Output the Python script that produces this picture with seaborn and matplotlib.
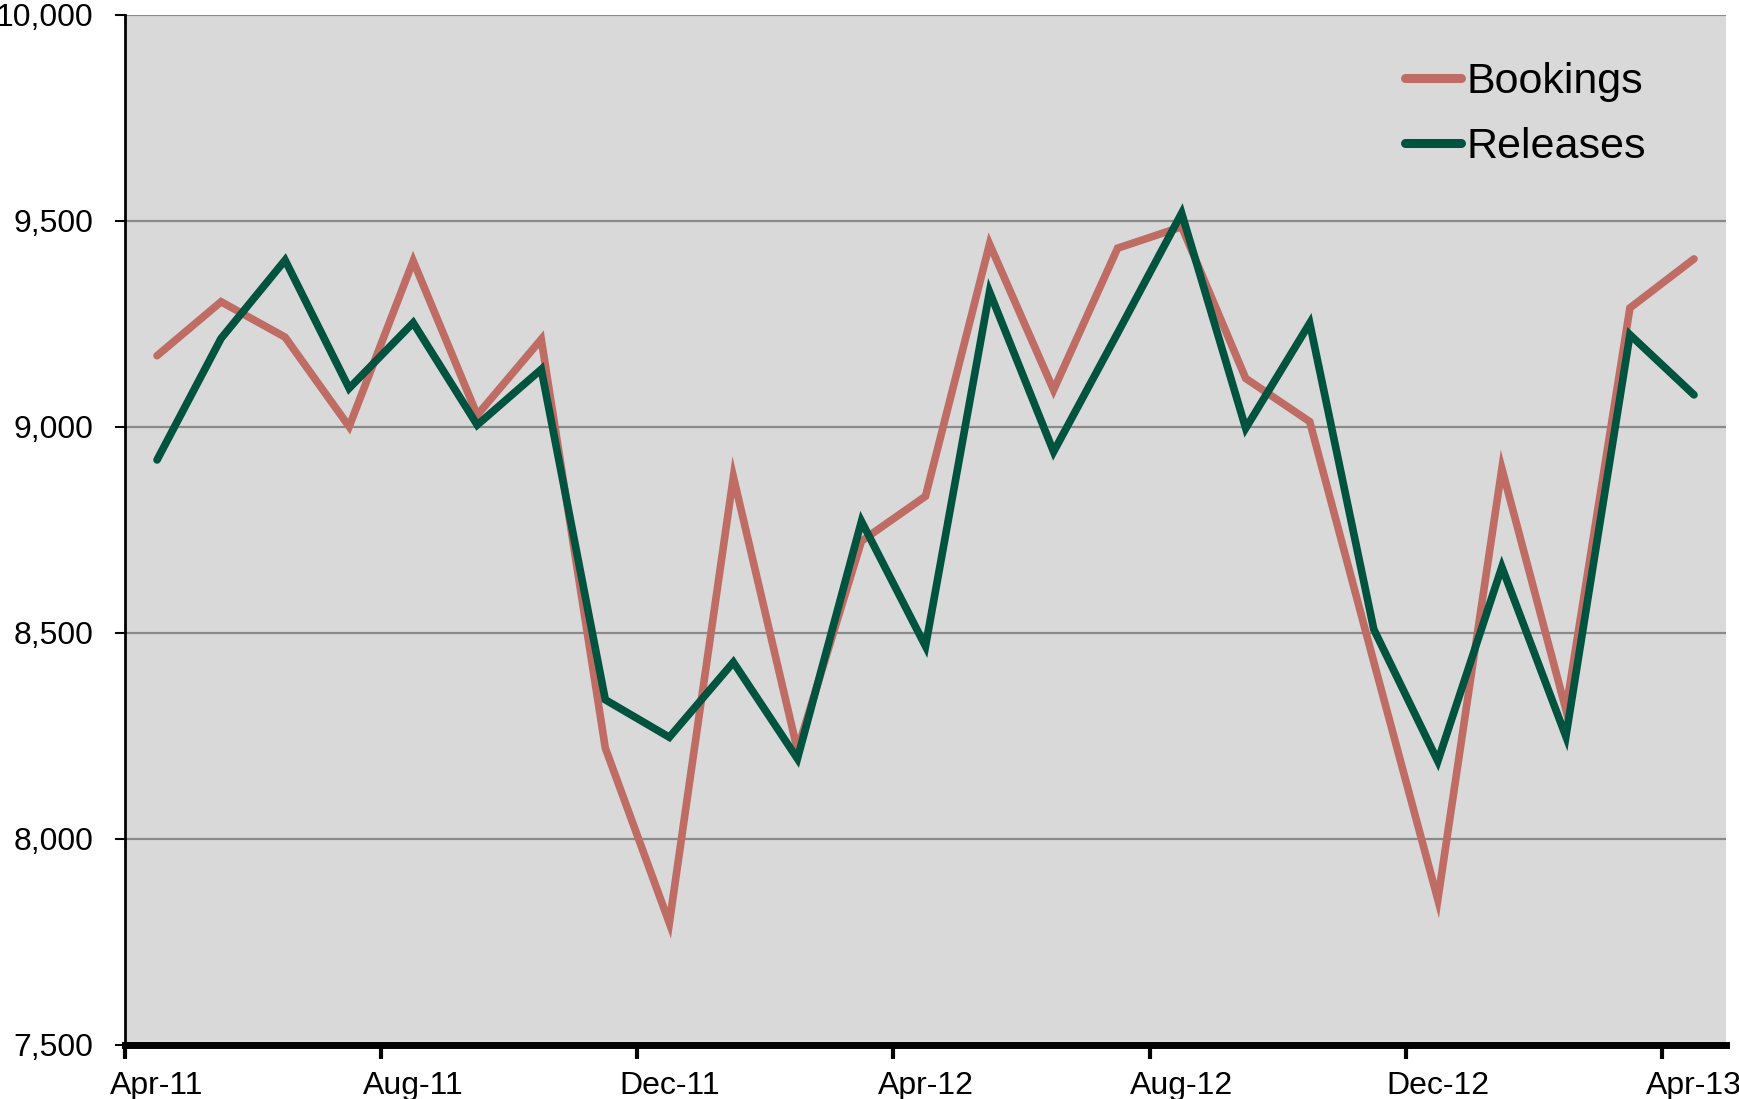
import matplotlib
matplotlib.use("Agg")
import matplotlib.pyplot as plt
import seaborn as sns
import pandas as pd
import numpy as np
from matplotlib.ticker import FuncFormatter, FixedLocator
from matplotlib.lines import Line2D

months = ["Apr-11", "May-11", "Jun-11", "Jul-11", "Aug-11", "Sep-11", "Oct-11", "Nov-11",
          "Dec-11", "Jan-12", "Feb-12", "Mar-12", "Apr-12", "May-12", "Jun-12", "Jul-12",
          "Aug-12", "Sep-12", "Oct-12", "Nov-12", "Dec-12", "Jan-13", "Feb-13", "Mar-13", "Apr-13"]
bookings = [9173, 9304, 9218, 9001, 9403, 9029, 9213, 8221, 7796, 8879, 8216, 8723, 8832,
            9444, 9090, 9434, 9486, 9118, 9013, 8430, 7853, 8899, 8314, 9289, 9408]
releases = [8920, 9215, 9405, 9094, 9253, 9005, 9140, 8338, 8247, 8429, 8195, 8771, 8468,
            9328, 8940, 9228, 9519, 8997, 9252, 8509, 8189, 8660, 8249, 9224, 9078]
series_names = ["Bookings", "Releases"]
colors = ["#bf6d64", "#00533e"]
label_every = 4

sns.set_theme(style="white")
plt.rcParams['font.family'] = ['Liberation Sans', 'DejaVu Sans']
plt.rcParams['text.color'] = 'black'

n = len(months)
df = pd.DataFrame({
    "idx": list(range(n)) * 2,
    "value": bookings + releases,
    "series": [series_names[0]] * n + [series_names[1]] * n,
})

fig = plt.figure(figsize=(17.4, 10.99), dpi=100)
ax = fig.add_axes([125 / 1740, 1 - 1045 / 1099, (1726 - 125) / 1740, (1045 - 15) / 1099])
ax.set_facecolor("#d9d9d9")

sns.lineplot(data=df, x="idx", y="value", hue="series", palette=colors, linewidth=5.5,
             ax=ax, legend=False, solid_capstyle="round", solid_joinstyle="miter")

ax.set_xlim(-0.5, n - 0.5)
ax.set_ylim(7500, 10000)

ax.yaxis.set_major_locator(FixedLocator([7500, 8000, 8500, 9000, 9500, 10000]))
ax.yaxis.set_major_formatter(FuncFormatter(lambda v, p: f"{int(v):,}"))
ax.grid(axis="y", color="#8a8a8a", linewidth=1.6)
ax.set_axisbelow(True)

label_pos = list(range(0, n, label_every))
ax.set_xticks(label_pos)
ax.set_xticklabels([months[i] for i in label_pos])
ax.set_xticks([p - 0.5 for p in label_pos], minor=True)
ax.tick_params(axis="x", which="major", length=0, pad=19, labelsize=23, labelcolor="black")
ax.tick_params(axis="x", which="minor", direction="out", length=10, width=3, color="black", bottom=True)
ax.tick_params(axis="y", which="major", direction="out", length=7, width=1.5, color="black",
               left=True, pad=16, labelsize=23, labelcolor="black")

for s in ["top", "right"]:
    ax.spines[s].set_visible(False)
ax.spines["left"].set_color("black")
ax.spines["left"].set_linewidth(2)
ax.spines["bottom"].set_color("black")
ax.spines["bottom"].set_linewidth(5)
ax.set_xlabel("")
ax.set_ylabel("")

handles = [Line2D([0], [0], color=c, linewidth=6.5, solid_capstyle="round") for c in colors]
leg = ax.legend(handles, series_names, loc="upper left", frameon=False, fontsize=31,
                bbox_to_anchor=(1405 / 1740, 1 - 62 / 1099), bbox_transform=fig.transFigure,
                handlelength=1.3, handletextpad=0.12, borderpad=0, borderaxespad=0,
                labelspacing=0.58)
for t in leg.get_texts():
    t.set_color("black")

fig.savefig("out.png", dpi=100)
